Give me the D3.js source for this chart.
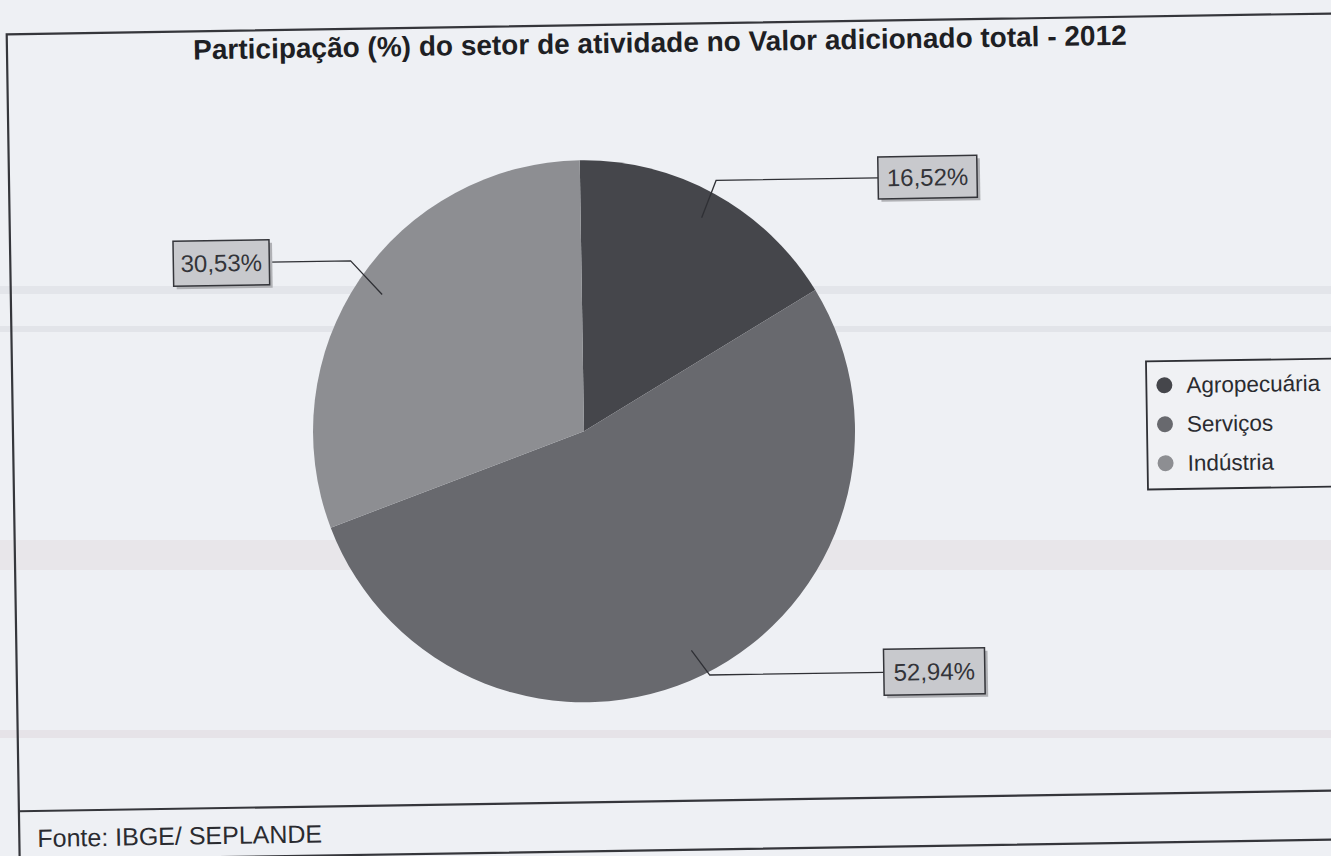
<!DOCTYPE html>
<html><head><meta charset="utf-8">
<script src="https://cdn.jsdelivr.net/npm/d3@7"></script>
<style>html,body{margin:0;padding:0;background:#eef0f4;}svg{display:block;}</style>
</head><body>
<svg id="c" width="1331" height="856"></svg>
<script>
const categories = ["Agropecuária", "Serviços", "Indústria"];
const values = [16.52, 52.94, 30.53];
const valueLabels = ["16,52%", "52,94%", "30,53%"];
const colors = ["#45464b", "#68696e", "#8d8e92"];
const title = "Participação (%) do setor de atividade no Valor adicionado total - 2012";
const source = "Fonte: IBGE/ SEPLANDE";

const W = 1331, H = 856;
const svg = d3.select("#c");
svg.append("rect").attr("width", W).attr("height", H).attr("fill", "#eef0f4");
// faint scan bands
[[286, 8, "#e3e5ea"], [326, 6, "#e2e4e9"], [540, 30, "#e8e6ea"], [730, 8, "#e6e3e8"]].forEach(b =>
  svg.append("rect").attr("x", 0).attr("y", b[0]).attr("width", W).attr("height", b[1]).attr("fill", b[2]));

const g = svg.append("g").attr("transform", "rotate(-0.9 668 430)");

// frame
g.append("rect").attr("x", 13).attr("y", 24).attr("width", 1330).attr("height", 826)
  .attr("fill", "none").attr("stroke", "#35363b").attr("stroke-width", 2.2);
g.append("line").attr("x1", 13).attr("x2", 1345).attr("y1", 801).attr("y2", 801)
  .attr("stroke", "#35363b").attr("stroke-width", 2.2);

g.append("text").attr("x", 666).attr("y", 52).attr("text-anchor", "middle")
  .attr("font-family", "Liberation Sans, Arial, sans-serif").attr("font-weight", "bold")
  .attr("font-size", 28).attr("fill", "#1e1f24").text(title);

g.append("text").attr("x", 31).attr("y", 837)
  .attr("font-family", "Liberation Sans, Arial, sans-serif")
  .attr("font-size", 25).attr("fill", "#2a2b30").text(source);

const cx = 584, cy = 430, r = 271;
const pie = d3.pie().sort(null).value(d => d.v).startAngle(0).endAngle(2 * Math.PI);
const data = categories.map((c, i) => ({ c, v: values[i], lab: valueLabels[i], col: colors[i] }));
const arcs = pie(data);
const arc = d3.arc().innerRadius(0).outerRadius(r);
const inner = d3.arc().innerRadius(r * 0.9).outerRadius(r * 0.9);

const pg = g.append("g").attr("transform", `translate(${cx},${cy})`);
pg.selectAll("path").data(arcs).join("path").attr("d", arc).attr("fill", d => d.data.col);

// label layout (box positions, elbow offsets) by category
const layout = {
  "Agropecuária": { elbow: [15, -37], bx: 882, bw: 99, bh: 42, side: "right" },
  "Serviços": { elbow: [18, 25], bx: 880, bw: 101, bh: 46, side: "right" },
  "Indústria": { elbow: [-31, -34], bx: 176, bw: 96, bh: 45, side: "left" }
};
arcs.forEach(a => {
  const L = layout[a.data.c];
  const [px, py] = inner.centroid(a);
  const sx = cx + px, sy = cy + py;
  const ex = sx + L.elbow[0], ey = sy + L.elbow[1];
  const bh = L.bh;
  const boxEdge = L.side === "right" ? L.bx : L.bx + L.bw;
  g.append("polyline").attr("points", `${sx},${sy} ${ex},${ey} ${boxEdge},${ey}`)
    .attr("fill", "none").attr("stroke", "#2f3035").attr("stroke-width", 1.3);
  g.append("rect").attr("x", L.bx + 3).attr("y", ey - bh / 2 + 3).attr("width", L.bw).attr("height", bh)
    .attr("fill", "#b0b1b5");
  g.append("rect").attr("x", L.bx).attr("y", ey - bh / 2).attr("width", L.bw).attr("height", bh)
    .attr("fill", "#c8c9cd").attr("stroke", "#34353a").attr("stroke-width", 1.5);
  g.append("text").attr("x", L.bx + L.bw / 2).attr("y", ey + 8.5).attr("text-anchor", "middle")
    .attr("font-family", "Liberation Sans, Arial, sans-serif").attr("font-size", 24)
    .attr("fill", "#333439").text(a.data.lab);
});

// legend
const lg = g.append("g").attr("transform", "translate(1147,369)");
lg.append("rect").attr("width", 220).attr("height", 128).attr("fill", "#f0f1f4")
  .attr("stroke", "#2f3035").attr("stroke-width", 1.8);
const ly = d3.scalePoint().domain(categories).range([24, 102]);
categories.forEach((c, i) => {
  lg.append("circle").attr("cx", 18).attr("cy", ly(c)).attr("r", 8).attr("fill", colors[i]);
  lg.append("text").attr("x", 40).attr("y", ly(c) + 8)
    .attr("font-family", "Liberation Sans, Arial, sans-serif").attr("font-size", 22.5)
    .attr("fill", "#2a2b30").text(c);
});
</script>
</body></html>
